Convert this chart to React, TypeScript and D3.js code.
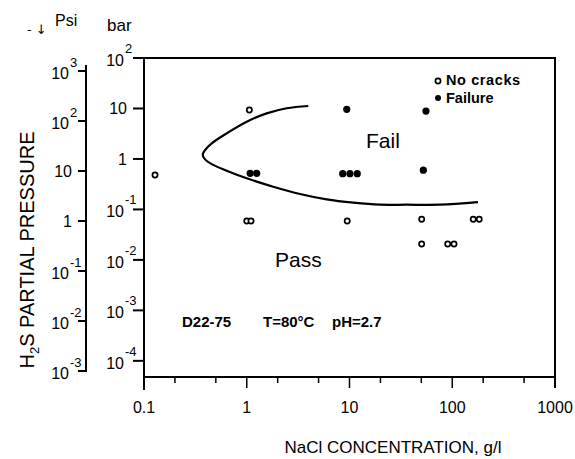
import React from "react";
import * as d3 from "d3";

// ---- data ----
const noCracksX = [0.128, 1.06, 1.0, 1.1, 9.5, 50.4, 160, 183, 50.4, 90.3, 104];
const noCracksY = [0.48, 9.3, 0.059, 0.059, 0.059, 0.064, 0.064, 0.064, 0.0206, 0.0206, 0.0206];
const failureX = [1.08, 1.25, 8.59, 10.1, 11.9, 9.4, 55.5, 52.3];
const failureY = [0.52, 0.52, 0.51, 0.51, 0.51, 9.6, 8.9, 0.6];
const curveX = [3.97, 2.45, 1.56, 1.0, 0.638, 0.456, 0.393, 0.373, 0.393, 0.456, 0.638, 1.0, 1.81, 3.3, 6.0, 10.9, 19.8, 36.0, 76, 178];
const curveY = [11.2, 10.1, 8.0, 5.47, 3.22, 2.04, 1.5, 1.2, 0.98, 0.79, 0.585, 0.413, 0.282, 0.202, 0.158, 0.136, 0.124, 0.124, 0.124, 0.14];

const xMajor = [0.1, 1, 10, 100, 1000];
const xMajorLabels = ["0.1", "1", "10", "100", "1000"];
const xMinor = [0.2, 0.5, 2, 5, 20, 50, 200, 500];

const barTicks = [100, 10, 1, 0.1, 0.01, 0.001, 0.0001];
const barBase = ["10", "10", "1", "10", "10", "10", "10"];
const barExp = ["2", "", "", "-1", "-2", "-3", "-4"];

const psiTicks = [1000, 100, 10, 1, 0.1, 0.01, 0.001];
const psiBase = ["10", "10", "10", "1", "10", "10", "10"];
const psiExp = ["3", "2", "", "", "-1", "-2", "-3"];

const FONT = "'Liberation Sans', Arial, Helvetica, sans-serif";

export default function App() {
  const W = 575, H = 459;
  const x = d3.scaleLog().domain([0.1, 1000]).range([144, 555]);
  const yBar = d3.scaleLog().domain([Math.pow(10, -4.32), 100]).range([377, 58]);
  const yPsi = d3.scaleLog().domain([0.001, 1000]).range([371, 71]);

  const curvePts: [number, number][] = curveX.map((v, i) => [v, curveY[i]]);
  const line = d3
    .line<[number, number]>()
    .x((d) => x(d[0]))
    .y((d) => yBar(d[1]))
    .curve(d3.curveCatmullRom.alpha(0.5));

  const stroke = "#000";

  return (
    <svg
      width={W}
      height={H}
      style={{ position: "absolute", left: 0, top: 0, background: "#fff" }}
      fontFamily={FONT}
    >
      <rect x={0} y={0} width={W} height={H} fill="#fff" />

      {/* frame: top + right border */}
      <path d={`M133,${yBar(100)}H${x(1000)}V388`} fill="none" stroke={stroke} strokeWidth={2} />
      {/* left bar axis */}
      <line x1={x(0.1)} x2={x(0.1)} y1={yBar(100)} y2={390} stroke={stroke} strokeWidth={2} />
      {/* x axis */}
      <line x1={x(0.1)} x2={x(1000)} y1={377} y2={377} stroke={stroke} strokeWidth={2} />

      {/* x ticks */}
      {xMajor.map((v, i) => (
        <g key={"xm" + i}>
          <line x1={x(v)} x2={x(v)} y1={377} y2={388} stroke={stroke} strokeWidth={1.5} />
          <text x={x(v)} y={413} fontSize={16} textAnchor="middle">
            {xMajorLabels[i]}
          </text>
        </g>
      ))}
      {xMinor.map((v, i) => (
        <line key={"xn" + i} x1={x(v)} x2={x(v)} y1={377} y2={383} stroke={stroke} strokeWidth={1.5} />
      ))}
      <text x={393} y={453} fontSize={17} textAnchor="middle">
        NaCl CONCENTRATION, g/l
      </text>

      {/* bar axis ticks */}
      {barTicks.map((v, i) => {
        const ty = yBar(v);
        return (
          <g key={"bt" + i}>
            <line x1={133} x2={144} y1={ty} y2={ty} stroke={stroke} strokeWidth={2} />
            {barExp[i] ? (
              <>
                <text x={124} y={ty + 8} fontSize={16} textAnchor="end">
                  {barBase[i]}
                </text>
                <text x={125} y={ty - 5} fontSize={13}>
                  {barExp[i]}
                </text>
              </>
            ) : (
              <text x={127} y={ty + 6} fontSize={16} textAnchor="end">
                {barBase[i]}
              </text>
            )}
          </g>
        );
      })}

      {/* psi axis */}
      <line x1={86} x2={86} y1={65} y2={yPsi(0.001) + 1} stroke={stroke} strokeWidth={2} />
      {psiTicks.map((v, i) => {
        const ty = yPsi(v);
        return (
          <g key={"pt" + i}>
            <line x1={78} x2={86} y1={ty} y2={ty} stroke={stroke} strokeWidth={2} />
            {psiExp[i] ? (
              <>
                <text x={69} y={ty + 8} fontSize={16} textAnchor="end">
                  {psiBase[i]}
                </text>
                <text x={70} y={ty - 4} fontSize={13}>
                  {psiExp[i]}
                </text>
              </>
            ) : (
              <text x={72} y={ty + 6} fontSize={16} textAnchor="end">
                {psiBase[i]}
              </text>
            )}
          </g>
        );
      })}

      {/* unit labels */}
      <text x={107} y={31} fontSize={17}>bar</text>
      <text x={55} y={26} fontSize={16}>Psi</text>
      <text x={27} y={34} fontSize={13} fontFamily="'DejaVu Sans', sans-serif">- ↓</text>

      {/* y axis title */}
      <text
        transform="translate(34,250) rotate(-90)"
        fontSize={20}
        textAnchor="middle"
      >
        H<tspan fontSize={13} dy={5}>2</tspan>
        <tspan dy={-5}>S PARTIAL PRESSURE</tspan>
      </text>

      {/* boundary curve */}
      <path d={line(curvePts) || ""} fill="none" stroke={stroke} strokeWidth={2.2} />

      {/* points */}
      {noCracksX.map((v, i) => (
        <circle key={"nc" + i} cx={x(v)} cy={yBar(noCracksY[i])} r={2.6} fill="#fff" stroke={stroke} strokeWidth={1.7} />
      ))}
      {failureX.map((v, i) => (
        <circle key={"f" + i} cx={x(v)} cy={yBar(failureY[i])} r={3.6} fill={stroke} />
      ))}

      {/* region labels */}
      <text x={366} y={148} fontSize={21}>Fail</text>
      <text x={275} y={267} fontSize={21}>Pass</text>

      {/* legend */}
      <circle cx={438} cy={81} r={2.6} fill="#fff" stroke={stroke} strokeWidth={1.7} />
      <text x={446} y={85} fontSize={14.5} fontWeight="bold" letterSpacing={0.6}>No cracks</text>
      <circle cx={438} cy={98} r={3} fill={stroke} />
      <text x={446} y={103} fontSize={14.5} fontWeight="bold">Failure</text>

      {/* annotation */}
      <text x={182} y={327} fontSize={15} fontWeight="bold">D22-75</text>
      <text x={263} y={327} fontSize={15} fontWeight="bold">T=80°C</text>
      <text x={332} y={327} fontSize={15} fontWeight="bold">pH=2.7</text>
    </svg>
  );
}
